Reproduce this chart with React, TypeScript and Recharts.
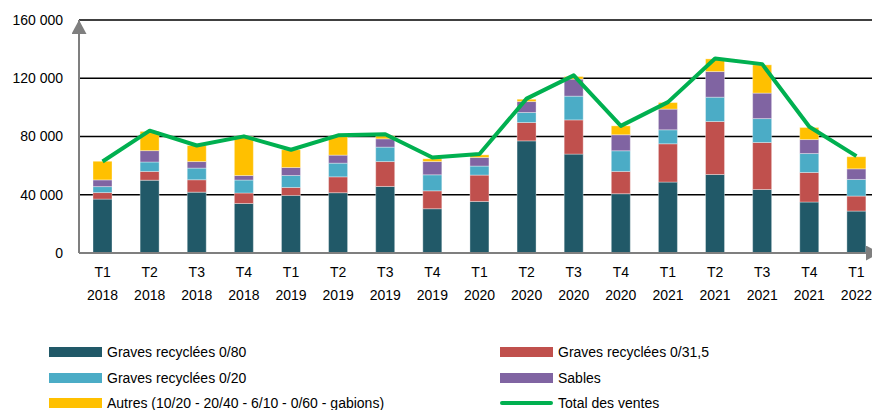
import { ComposedChart, Bar, Line, XAxis, YAxis, CartesianGrid } from 'recharts';

const quarters = ['T1', 'T2', 'T3', 'T4', 'T1', 'T2', 'T3', 'T4', 'T1', 'T2', 'T3', 'T4', 'T1', 'T2', 'T3', 'T4', 'T1'];
const years = ['2018', '2018', '2018', '2018', '2019', '2019', '2019', '2019', '2020', '2020', '2020', '2020', '2021', '2021', '2021', '2021', '2022'];

// tonnes per quarter
const graves080 = [37000, 50000, 41800, 34000, 39500, 41400, 45700, 30400, 35400, 77000, 67900, 40700, 48700, 53900, 43600, 35000, 28800];
const graves0315 = [4500, 6000, 8500, 7200, 5500, 10900, 17100, 12300, 18100, 12600, 23500, 15300, 26300, 36400, 32300, 20300, 10300];
const graves020 = [4100, 6500, 8000, 8900, 8200, 9400, 9900, 11000, 6200, 6900, 16300, 14200, 9600, 16700, 16400, 13000, 11400];
const sables = [4600, 7800, 4500, 3100, 5500, 5500, 5700, 9100, 5900, 7500, 11700, 11000, 14200, 17600, 17500, 9600, 7300];
const autres = [12800, 13200, 11000, 26800, 12200, 12800, 2100, 1900, 1800, 1600, 1800, 6100, 4500, 8700, 19400, 8300, 8300];
const totalVentes = [62800, 84000, 73800, 80100, 70900, 80800, 81600, 65600, 68000, 106000, 122000, 87300, 103600, 133600, 129700, 86700, 66500];

const yTicks = [0, 40000, 80000, 120000, 160000];

const series = [
  { key: 'g080', name: 'Graves recyclées 0/80', color: '#215968', values: graves080 },
  { key: 'g0315', name: 'Graves recyclées 0/31,5', color: '#C0504D', values: graves0315 },
  { key: 'g020', name: 'Graves recyclées 0/20', color: '#4BACC6', values: graves020 },
  { key: 'sables', name: 'Sables', color: '#8064A2', values: sables },
  { key: 'autres', name: 'Autres (10/20 - 20/40 - 6/10 - 0/60 - gabions)', color: '#FFC000', values: autres },
];
const lineColor = '#00B050';

const data = quarters.map((q, i) => {
  const row: any = { cat: `${q} ${years[i]}`, q, year: years[i], total: totalVentes[i] };
  series.forEach((s) => (row[s.key] = s.values[i]));
  return row;
});

const font = '"Liberation Sans", Arial, sans-serif';

const fmt = (v: number) => (v === 0 ? '0' : `${Math.floor(v / 1000)} ${String(v % 1000).padStart(3, '0')}`);

const QuarterTick = ({ x, y, index }: any) => (
  <g>
    <text x={x} y={y + 24} textAnchor="middle" fontSize={14} fontFamily={font} fill="#000">
      {quarters[index]}
    </text>
    <text x={x} y={y + 47} textAnchor="middle" fontSize={14} fontFamily={font} fill="#000">
      {years[index]}
    </text>
  </g>
);

// legend laid out in two columns, like the source
const legendItems = [
  { ...series[0], col: 0, row: 0, line: false },
  { ...series[1], col: 1, row: 0, line: false },
  { ...series[2], col: 0, row: 1, line: false },
  { ...series[3], col: 1, row: 1, line: false },
  { ...series[4], col: 0, row: 2, line: false },
  { key: 'total', name: 'Total des ventes', color: lineColor, col: 1, row: 2, line: true },
];

export default function App() {
  return (
    <div style={{ position: 'absolute', left: 0, top: 0, width: 872, height: 410, overflow: 'hidden', background: '#fff' }}>
      <svg width={0} height={0} style={{ position: 'absolute' }}>
        <defs>
          <marker id="arrow" viewBox="0 0 14 15" refX="14" refY="7.5" markerWidth="14" markerHeight="15" markerUnits="userSpaceOnUse" orient="auto-start-reverse">
            <path d="M0,0 L14,7.5 L0,15 z" fill="#7f7f7f" />
          </marker>
        </defs>
      </svg>
      <ComposedChart width={880} height={312} data={data} margin={{ top: 20, right: 0, left: 0, bottom: 13 }} barSize={19}>
        <CartesianGrid vertical={false} stroke="#000" strokeWidth={1.5} horizontalValues={[40000, 80000, 120000, 160000]} />
        <XAxis
          dataKey="cat"
          interval={0}
          height={46}
          tickSize={0}
          tickMargin={0}
          tickLine={false}
          axisLine={{ stroke: '#7f7f7f', strokeWidth: 2, markerEnd: 'url(#arrow)' }}
          tick={<QuarterTick />}
        />
        <YAxis
          width={79}
          domain={[0, 160000]}
          ticks={yTicks}
          tickFormatter={fmt}
          tickSize={0}
          tickMargin={16}
          tickLine={false}
          axisLine={{ stroke: '#7f7f7f', strokeWidth: 2, markerStart: 'url(#arrow)' }}
          tick={{ fontSize: 14, fontFamily: font, fill: '#000' }}
        />
        {series.map((s) => (
          <Bar key={s.key} dataKey={s.key} name={s.name} stackId="a" fill={s.color} stroke="#ffffff" strokeOpacity={0.5} strokeWidth={0.7} isAnimationActive={false} />
        ))}
        <Line
          dataKey="total"
          name="Total des ventes"
          type="linear"
          stroke={lineColor}
          strokeWidth={4}
          strokeLinejoin="round"
          dot={false}
          activeDot={false}
          isAnimationActive={false}
        />
      </ComposedChart>
      {legendItems.map((it) => (
        <div
          key={it.key}
          style={{
            position: 'absolute',
            left: it.col === 0 ? 49 : 500,
            top: 342 + it.row * 25.5,
            height: 20,
            display: 'flex',
            alignItems: 'center',
            fontFamily: font,
            fontSize: 14,
            color: '#000',
            whiteSpace: 'nowrap',
          }}
        >
          {it.line ? (
            <div style={{ width: 53, height: 4, borderRadius: 2, background: it.color, marginRight: 5 }} />
          ) : (
            <div style={{ width: 53, height: 10, background: it.color, marginRight: 5 }} />
          )}
          <span>{it.name}</span>
        </div>
      ))}
    </div>
  );
}
